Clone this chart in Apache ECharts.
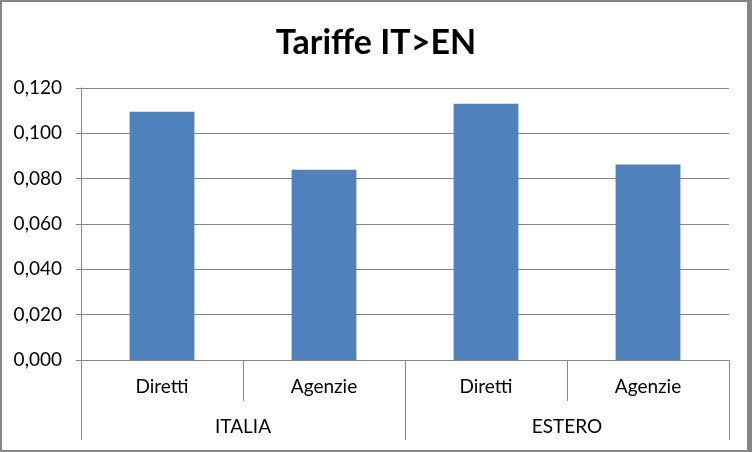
<!DOCTYPE html>
<html>
<head>
<meta charset="utf-8">
<script src="https://cdn.jsdelivr.net/npm/echarts@6/dist/echarts.min.js"></script>
<style>
html,body{margin:0;padding:0;background:#fff;}
#frame{position:absolute;left:0;top:0;width:745px;height:448px;border-style:solid;border-color:#868686;border-width:2px 5px 2px 2px;background:#fff;}
#chart{position:absolute;left:0;top:0;width:752px;height:452px;}
</style>
</head>
<body>
<div id="frame"></div>
<div id="chart"></div>
<script>
const titleText = 'Tariffe IT>EN';
const groups = ['ITALIA', 'ESTERO'];
const categories = ['Diretti', 'Agenzie', 'Diretti', 'Agenzie'];
const values = [0.1095, 0.0839, 0.1131, 0.0862];
const yMin = 0, yMax = 0.12, yStep = 0.02;

const gray = '#868686';
const font = 'Lato';
const chart = echarts.init(document.getElementById('chart'), null, {renderer: 'canvas'});
chart.setOption({
  animation: false,
  backgroundColor: 'transparent',
  title: {
    text: titleText, left: 'center', top: 21,
    textStyle: {fontFamily: font, fontWeight: 'bold', fontSize: 34, color: '#000'}
  },
  grid: {left: 81, right: 23, top: 88, bottom: 92, containLabel: false},
  xAxis: [
    {
      type: 'category', data: categories, position: 'bottom',
      axisLine: {show: true, lineStyle: {color: gray, width: 1}},
      axisTick: {show: true, interval: 0, length: 41, alignWithLabel: false, lineStyle: {color: gray}},
      axisLabel: {interval: 0, margin: 17, fontFamily: font, fontSize: 19, color: '#000'}
    },
    {
      type: 'category', data: groups, position: 'bottom',
      axisLine: {show: false},
      axisTick: {show: true, interval: 0, length: 80, lineStyle: {color: gray}},
      axisLabel: {interval: 0, margin: 57, fontFamily: font, fontSize: 19, color: '#000'}
    }
  ],
  yAxis: {
    type: 'value', min: yMin, max: yMax, interval: yStep,
    axisLine: {show: true, lineStyle: {color: gray}},
    axisTick: {show: true, length: 5, lineStyle: {color: gray}},
    splitLine: {show: true, lineStyle: {color: gray, width: 1}},
    axisLabel: {
      margin: 19, fontFamily: font, fontSize: 19, color: '#000',
      formatter: v => v.toFixed(3).replace('.', ',')
    }
  },
  series: [{
    type: 'bar', data: values, xAxisIndex: 0, barWidth: '40%',
    itemStyle: {color: '#4F81BD'}
  }]
});
</script>
</body>
</html>
